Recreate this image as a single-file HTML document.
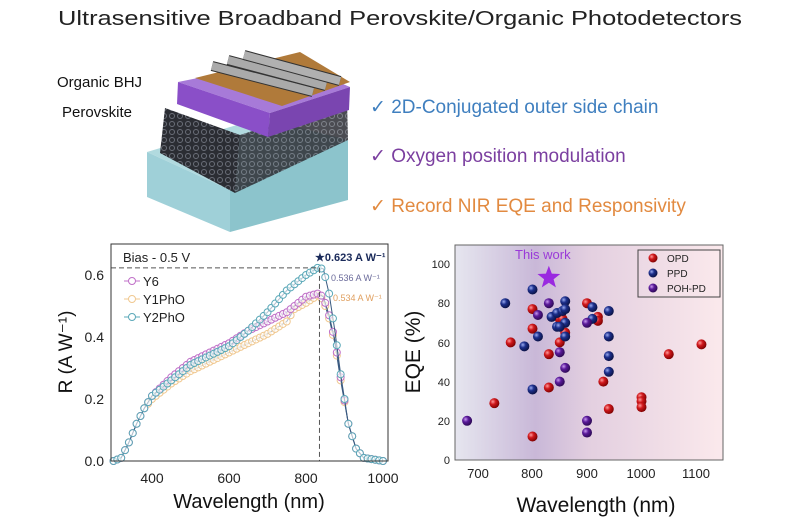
<!DOCTYPE html>
<html><head><meta charset="utf-8"><style>
html,body{margin:0;padding:0;background:#fff;}
svg{display:block;font-family:"Liberation Sans",Arial,sans-serif;}
</style></head><body>
<svg id="s" width="800" height="530" viewBox="0 0 800 530" xmlns="http://www.w3.org/2000/svg">
<defs>
<linearGradient id="bg" x1="0" x2="1" y1="0" y2="0">
<stop offset="0" stop-color="#e6e6ef"/><stop offset="0.3" stop-color="#c9b8d8"/><stop offset="0.5" stop-color="#e3cfe0"/><stop offset="1" stop-color="#fbe9ec"/>
</linearGradient>
<radialGradient id="rb" cx="0.35" cy="0.35" r="0.7"><stop offset="0" stop-color="#ff9a9a"/><stop offset="0.4" stop-color="#d0181c"/><stop offset="1" stop-color="#7a0000"/></radialGradient>
<radialGradient id="bb" cx="0.35" cy="0.35" r="0.7"><stop offset="0" stop-color="#9aaaf0"/><stop offset="0.4" stop-color="#1c2f8c"/><stop offset="1" stop-color="#0a1040"/></radialGradient>
<radialGradient id="pb" cx="0.35" cy="0.35" r="0.7"><stop offset="0" stop-color="#c99af0"/><stop offset="0.4" stop-color="#5a1a9a"/><stop offset="1" stop-color="#2a0850"/></radialGradient>
<pattern id="dots" width="8" height="8" patternUnits="userSpaceOnUse"><rect width="8" height="8" fill="#2b2d33"/><circle cx="4" cy="4" r="2.5" fill="none" stroke="#6a6e78" stroke-width="1"/></pattern>
</defs>
<text x="400" y="25" text-anchor="middle" font-size="20" fill="#222" textLength="684" lengthAdjust="spacingAndGlyphs">Ultrasensitive Broadband Perovskite/Organic Photodetectors</text>
<!-- device -->
<polygon points="147,152 260,118 348,140 230,190" fill="#a8d6dc" opacity="0.9"/>
<polygon points="147,152 230,190 230,232 147,197" fill="#9fd0d8"/>
<polygon points="230,190 348,140 348,200 230,232" fill="#8cc4cc"/>
<polygon points="165,108 240,135 235,193 160,153" fill="url(#dots)"/>
<polygon points="240,135 347,100 348,140 235,193" fill="url(#dots)" opacity="0.85"/>
<polygon points="178,82 287,60 350,87 270,113" fill="#a77ad8"/>
<polygon points="178,82 270,113 268,137 177,104" fill="#8a4fc8"/>
<polygon points="270,113 350,87 349,110 268,137" fill="#7a45b0"/>
<polygon points="195,78 300,52 350,82 282,106" fill="#b07a3a"/>
<g stroke-linecap="butt">
<line x1="212" y1="66" x2="313" y2="92" stroke="#333" stroke-width="10"/><line x1="212" y1="66" x2="313" y2="92" stroke="#aaa" stroke-width="8"/>
<line x1="228" y1="60" x2="326" y2="86" stroke="#333" stroke-width="10"/><line x1="228" y1="60" x2="326" y2="86" stroke="#aaa" stroke-width="8"/>
<line x1="244" y1="55" x2="340" y2="81" stroke="#333" stroke-width="10"/><line x1="244" y1="55" x2="340" y2="81" stroke="#b0b0b0" stroke-width="8"/>
</g>
<text x="57" y="87" font-size="15" fill="#111">Organic BHJ</text>
<text x="62" y="117" font-size="15" fill="#111">Perovskite</text>
<text x="370" y="113" font-size="19" fill="#3f7fbf">✓ 2D-Conjugated outer side chain</text>
<text x="370" y="162" font-size="19" fill="#7b3fa0">✓ Oxygen position modulation</text>
<text x="370" y="212" font-size="19" fill="#e28a40">✓ Record NIR EQE and Responsivity</text>
<!-- left chart -->
<g id="L"></g>
<rect x="111" y="244" width="277" height="217" fill="none" stroke="#333" stroke-width="1"/>
<g font-size="14" fill="#222" text-anchor="end">
<text x="104" y="466">0.0</text><text x="104" y="404">0.2</text><text x="104" y="342">0.4</text><text x="104" y="280">0.6</text></g>
<g font-size="14" fill="#222" text-anchor="middle">
<text x="152" y="483">400</text><text x="229" y="483">600</text><text x="306" y="483">800</text><text x="383" y="483">1000</text></g>
<text x="249" y="508" font-size="20" text-anchor="middle" fill="#111">Wavelength (nm)</text>
<text transform="translate(72,352) rotate(-90)" font-size="19" text-anchor="middle" fill="#111">R (A W⁻¹)</text>
<text x="123" y="262" font-size="13" fill="#222">Bias - 0.5 V</text>
<g font-size="13" fill="#222">
<line x1="124" y1="281" x2="140" y2="281" stroke="#c070c8"/><circle cx="132" cy="281" r="3.5" fill="#fff" stroke="#c070c8"/><text x="143" y="286">Y6</text>
<line x1="124" y1="299" x2="140" y2="299" stroke="#f0c890"/><circle cx="132" cy="299" r="3.5" fill="#fff" stroke="#f0c890"/><text x="143" y="304">Y1PhO</text>
<line x1="124" y1="317" x2="140" y2="317" stroke="#5aa8b8"/><circle cx="132" cy="317" r="3.5" fill="#fff" stroke="#5aa8b8"/><text x="143" y="322">Y2PhO</text>
</g>
<text x="315" y="261" font-size="11" font-weight="bold" fill="#1a2a5a">★0.623 A W⁻¹</text>
<text x="331" y="281" font-size="9" fill="#6a6a9a">0.536 A W⁻¹</text>
<text x="333" y="301" font-size="9" fill="#e0a060">0.534 A W⁻¹</text>
<!-- right chart -->
<rect x="455" y="245" width="268" height="215" fill="url(#bg)"/>
<g id="R"></g>
<polyline points="455,245 455,460 723,460" fill="none" stroke="#333"/>
<rect x="455" y="245" width="268" height="215" fill="none" stroke="#666"/>
<g font-size="11" fill="#222" text-anchor="end">
<text x="450" y="464">0</text><text x="450" y="425">20</text><text x="450" y="386">40</text><text x="450" y="347">60</text><text x="450" y="307">80</text><text x="450" y="268">100</text></g>
<g font-size="13" fill="#222" text-anchor="middle">
<text x="478" y="478">700</text><text x="532" y="478">800</text><text x="587" y="478">900</text><text x="641" y="478">1000</text><text x="696" y="478">1100</text></g>
<text x="596" y="512" font-size="21" text-anchor="middle" fill="#111">Wavelength (nm)</text>
<text transform="translate(420,352) rotate(-90)" font-size="21" text-anchor="middle" fill="#111">EQE (%)</text>
<text x="515" y="259" font-size="13" fill="#9a3ad8">This work</text>
<rect x="638" y="250" width="82" height="47" fill="none" stroke="#444"/>
<circle cx="653" cy="258" r="4.5" fill="url(#rb)"/><text x="667" y="262" font-size="10" fill="#222">OPD</text>
<circle cx="653" cy="273" r="4.5" fill="url(#bb)"/><text x="667" y="277" font-size="10" fill="#222">PPD</text>
<circle cx="653" cy="288" r="4.5" fill="url(#pb)"/><text x="667" y="292" font-size="10" fill="#222">POH-PD</text>
</svg>
<script>
var NS="http://www.w3.org/2000/svg";
function el(p,t,a){var e=document.createElementNS(NS,t);for(var k in a)e.setAttribute(k,a[k]);p.appendChild(e);return e;}
var L=document.getElementById("L");
function X(n){return 152+(n-400)*0.385;} function Y(v){return 461-v*310;}
function interp(d,n){for(var i=0;i<d.length-1;i++){if(n>=d[i][0]&&n<=d[i+1][0]){var t=(n-d[i][0])/(d[i+1][0]-d[i][0]);return d[i][1]+t*(d[i+1][1]-d[i][1]);}}return 0;}
var y2=[[300,0],[320,0.01],[340,0.06],[360,0.12],[380,0.17],[400,0.21],[450,0.26],[500,0.31],[550,0.34],[600,0.37],[650,0.42],[700,0.48],[750,0.55],[800,0.60],[830,0.623],[845,0.62],[860,0.54],[875,0.42],[890,0.28],[910,0.12],[930,0.04],[950,0.01],[1000,0]];
var y6=[[300,0],[320,0.01],[340,0.06],[360,0.12],[380,0.17],[400,0.21],[450,0.27],[500,0.32],[550,0.35],[600,0.38],[650,0.42],[700,0.45],[750,0.48],[800,0.53],[830,0.54],[845,0.53],[860,0.47],[875,0.39],[890,0.27],[910,0.12],[930,0.04],[950,0.01],[1000,0]];
var y1=[[300,0],[320,0.01],[340,0.06],[360,0.12],[380,0.17],[400,0.2],[450,0.25],[500,0.29],[550,0.32],[600,0.35],[650,0.38],[700,0.41],[750,0.45],[770,0.49],[800,0.51],[830,0.534],[845,0.52],[860,0.46],[875,0.38],[890,0.26],[910,0.12],[930,0.04],[950,0.01],[1000,0]];
[[y1,"#f0c890"],[y6,"#c070c8"],[y2,"#5aa8b8"]].forEach(function(s){
 var pts=[];for(var n=300;n<=1000;n+=5)pts.push(X(n)+","+Y(interp(s[0],n)));
 el(L,"polyline",{points:pts.join(" "),fill:"none",stroke:"#3a5a80","stroke-width":1});
 for(var n=300;n<=1000;n+=10)el(L,"circle",{cx:X(n),cy:Y(interp(s[0],n)),r:3.5,fill:"#fff","fill-opacity":0.6,stroke:s[1],"stroke-width":1});
});
el(L,"line",{x1:111,y1:Y(0.623),x2:X(835),y2:Y(0.623),stroke:"#555","stroke-dasharray":"5,3"});
el(L,"line",{x1:X(835),y1:Y(0.623),x2:X(835),y2:461,stroke:"#555","stroke-dasharray":"5,3"});
var R=document.getElementById("R");
function RX(n){return 478+(n-700)*0.545;} function RY(v){return 460-v*1.96;}
var opd=[[800,77],[800,67],[760,60],[830,54],[830,37],[800,12],[730,29],[850,72],[855,72],[850,60],[860,65],[900,80],[920,73],[920,71],[930,40],[940,26],[1000,32],[1000,30],[1000,27],[1050,54],[1110,59]];
var ppd=[[800,87],[750,80],[810,63],[785,58],[800,36],[835,73],[845,75],[855,76],[860,81],[860,77],[860,70],[860,63],[845,68],[910,78],[910,72],[940,76],[940,63],[940,53],[940,45],[850,68]];
var poh=[[830,80],[810,74],[850,55],[860,47],[850,40],[680,20],[900,20],[900,14],[900,70]];
[[opd,"url(#rb)"],[ppd,"url(#bb)"],[poh,"url(#pb)"]].forEach(function(s){s[0].forEach(function(p){el(R,"circle",{cx:RX(p[0]),cy:RY(p[1]),r:5,fill:s[1]});});});
var cx=RX(830),cy=RY(93),pts=[];for(var i=0;i<10;i++){var a=-Math.PI/2+i*Math.PI/5,r=i%2?5:12;pts.push((cx+r*Math.cos(a))+","+(cy+r*Math.sin(a)));}
el(R,"polygon",{points:pts.join(" "),fill:"#9a2ae0"});
</script>
</body></html>
